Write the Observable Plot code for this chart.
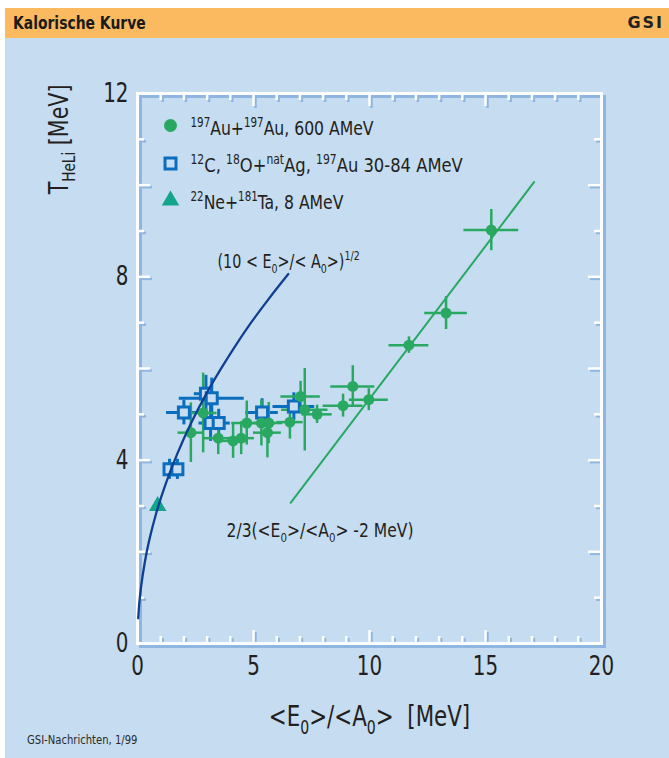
<!DOCTYPE html>
<html><head><meta charset="utf-8">
<script src="https://cdn.jsdelivr.net/npm/d3@7"></script>
<script src="https://cdn.jsdelivr.net/npm/@observablehq/plot@0.6"></script>
<style>
html,body{margin:0;padding:0;background:#fff;}
body{width:669px;height:758px;overflow:hidden;font-family:"DejaVu Sans Condensed","DejaVu Sans",sans-serif;}
#wrap{position:relative;width:669px;height:758px;}
#header{position:absolute;left:5px;top:8px;width:664px;height:30px;background:#FBBA60;}
#title{position:absolute;left:8px;top:5px;font-weight:bold;font-size:17px;color:#1a1a1a;transform:scaleX(0.91);transform-origin:left center;white-space:nowrap;}
#logo{position:absolute;right:5px;top:5px;font-family:"DejaVu Sans",sans-serif;font-weight:900;font-size:16px;letter-spacing:2px;color:#222;}
#chart{position:absolute;left:5px;top:38px;width:664px;height:720px;background:#C6DCF0;}
#footer{position:absolute;left:27px;top:733px;font-size:12px;color:#2a2a2a;transform:scaleX(0.93);transform-origin:left center;white-space:nowrap;}
</style></head>
<body>
<div id="wrap">
  <div id="header"><div id="title">Kalorische Kurve</div><div id="logo">GSI</div></div>
  <div id="chart"></div>
  <div id="footer">GSI-Nachrichten, 1/99</div>
</div>
<script>
// ---- data: 197Au+197Au, 600 AMeV (green circles)
const auX    = [2.30, 2.83, 3.48, 4.12, 4.47, 4.71, 5.34, 5.66, 5.60, 6.57, 7.03, 7.21, 7.74, 8.86, 9.28, 9.97, 11.70, 13.30, 15.25];
const auY    = [4.60, 5.03, 4.48, 4.42, 4.48, 4.81, 4.81, 4.81, 4.60, 4.83, 5.39, 5.10, 5.00, 5.19, 5.61, 5.32, 6.51, 7.21, 9.02];
const auXerr = [0.55, 0.60, 0.65, 0.65, 0.57, 0.65, 0.60, 0.60, 0.60, 0.57, 0.85, 1.00, 0.65, 0.86, 0.95, 0.84, 0.86, 0.92, 1.18];
const auYerr = [0.65, 0.87, 0.36, 0.38, 0.36, 0.48, 0.50, 0.45, 0.55, 0.37, 0.33, 0.90, 0.20, 0.25, 0.45, 0.24, 0.18, 0.36, 0.45];
// ---- 12C, 18O+natAg, 197Au 30-84 AMeV (blue open squares)
const agX    = [1.38, 1.72, 2.00, 2.95, 3.20, 3.15, 3.50, 5.37, 6.74];
const agY    = [3.80, 3.80, 5.04, 5.45, 5.35, 4.81, 4.81, 5.04, 5.17];
const agXerr = [0.20, 0.20, 0.75, 0.50, 1.40, 0.50, 0.50, 0.70, 0.90];
const agYerr = [0.22, 0.22, 0.27, 0.40, 0.44, 0.40, 0.30, 0.30, 0.30];
// ---- 22Ne+181Ta, 8 AMeV (teal triangle)
const neX = [0.87];
const neY = [3.00];
// ---- curves
const fermiX = [0.03, 0.08, 0.15, 0.30, 0.50, 0.80, 1.20, 1.70, 2.30, 3.00, 3.80, 4.70, 5.60, 6.50];
const fermiT = [0.55, 0.89, 1.22, 1.73, 2.24, 2.83, 3.46, 4.12, 4.80, 5.48, 6.16, 6.86, 7.48, 8.06];
const lineX = [6.6, 17.1];
const lineT = [3.07, 10.07];
// ---- ticks
const xLabelTicks = [0, 5, 10, 15, 20];
const yLabelTicks = [0, 4, 8, 12];
const xMinor = [1,2,3,4,6,7,8,9,11,12,13,14,16,17,18,19];
const xMajor = [5,10,15];
const yMinor = [1,3,5,7,9,11];
const yMajor = [2,4,6,8,10];
// ---- texts
const legendLabels = ["^{197}Au+^{197}Au, 600 AMeV", "^{12}C, ^{18}O+^{nat}Ag, ^{197}Au 30-84 AMeV", "^{22}Ne+^{181}Ta, 8 AMeV"];
const fermiLabel = "(10 < E_{0}>/< A_{0}>)^{1/2}";
const lineLabel = "2/3(<E_{0}>/<A_{0}> -2 MeV)";
const xTitle = "<E_{0}>/<A_{0}>  [MeV]";
const yTitle = "T_{HeLi} [MeV]";
const yTitleAt = [-3.39, 11.0];

const GREEN = "#29A862", BLUE = "#0B6DBE", NAVY = "#0E3F92", TEAL = "#13A48C", INK = "#231F20";
const BG = "#C6DCF0", SHADOW = "#8FB6E0";
const W = 664, H = 720, ML = 132, MR = 68, MT = 55, MB = 115;
const IW = W - ML - MR, IH = H - MT - MB;

const au = auX.map((x, i) => ({x, y: auY[i], xe: auXerr[i], ye: auYerr[i]}));
const ag = agX.map((x, i) => ({x, y: agY[i], xe: agXerr[i], ye: agYerr[i]}));
const ne = neX.map((x, i) => ({x, y: neY[i]}));
const fermi = fermiX.map((x, i) => ({x, y: fermiT[i]}));
const line = lineX.map((x, i) => ({x, y: lineT[i]}));

function ticks(color, off, w) {
  const o = {stroke: color, strokeWidth: w, dx: off, dy: off};
  return [
    Plot.tickX(xMinor, {...o, x: d => d, insetTop: IH - 7}),
    Plot.tickX(xMajor, {...o, x: d => d, insetTop: IH - 13}),
    Plot.tickX(xMinor, {...o, x: d => d, insetBottom: IH - 7}),
    Plot.tickX(xMajor, {...o, x: d => d, insetBottom: IH - 13}),
    Plot.tickY(yMinor, {...o, y: d => d, insetRight: IW - 7}),
    Plot.tickY(yMajor, {...o, y: d => d, insetRight: IW - 13}),
    Plot.tickY(yMinor, {...o, y: d => d, insetLeft: IW - 7}),
    Plot.tickY(yMajor, {...o, y: d => d, insetLeft: IW - 13})
  ];
}

const FONT = '"DejaVu Sans Condensed","DejaVu Sans",sans-serif';

const plot = Plot.plot({
  width: W, height: H,
  marginLeft: ML, marginRight: MR, marginTop: MT, marginBottom: MB,
  style: {background: "transparent", fontFamily: FONT, color: INK, overflow: "visible"},
  x: {domain: [0, 20]},
  y: {domain: [0, 12]},
  marks: [
    Plot.frame({stroke: SHADOW, strokeWidth: 3, dx: 3, dy: 3}),
    ...ticks(SHADOW, 2, 2.5),
    Plot.frame({stroke: "white", strokeWidth: 3}),
    ...ticks("white", 0, 2.5),
    Plot.axisX(xLabelTicks, {tickSize: 0, tickPadding: 12, fontSize: 27, fill: INK, label: null}),
    Plot.axisY(yLabelTicks, {tickSize: 0, tickPadding: 9, fontSize: 27, fill: INK, label: null}),
    // error bars
    Plot.ruleY(ag, {y: "y", x1: d => d.x - d.xe, x2: d => d.x + d.xe, stroke: BLUE, strokeWidth: 3}),
    Plot.ruleX(ag, {x: "x", y1: d => d.y - d.ye, y2: d => d.y + d.ye, stroke: BLUE, strokeWidth: 3}),
    Plot.ruleY(au, {y: "y", x1: d => d.x - d.xe, x2: d => d.x + d.xe, stroke: GREEN, strokeWidth: 2.5}),
    Plot.ruleX(au, {x: "x", y1: d => d.y - d.ye, y2: d => d.y + d.ye, stroke: GREEN, strokeWidth: 2.5}),
    Plot.dot(ag, {x: "x", y: "y", symbol: "square", r: 6.2, stroke: BLUE, strokeWidth: 3, fill: BG}),
    Plot.dot(au, {x: "x", y: "y", r: 5.5, fill: GREEN}),
    Plot.dot(ne, {x: "x", y: "y", symbol: "triangle", r: 6.5, fill: TEAL}),
    Plot.line(fermi, {x: "x", y: "y", stroke: NAVY, strokeWidth: 2.3, curve: "catmull-rom"}),
    Plot.line(line, {x: "x", y: "y", stroke: GREEN, strokeWidth: 2}),
    // legend
    Plot.dot([0], {frameAnchor: "top-left", dx: 33, dy: 32, r: 6.5, fill: GREEN}),
    Plot.dot([0], {frameAnchor: "top-left", dx: 33, dy: 70, r: 6.2, symbol: "square", stroke: BLUE, strokeWidth: 3, fill: BG}),
    Plot.dot([0], {frameAnchor: "top-left", dx: 33, dy: 107, r: 6.5, symbol: "triangle", fill: TEAL}),
    Plot.text([legendLabels[0]], {frameAnchor: "top-left", dx: 53, dy: 27, text: d => d, textAnchor: "start", fontSize: 20, fill: INK}),
    Plot.text([legendLabels[1]], {frameAnchor: "top-left", dx: 53, dy: 64, text: d => d, textAnchor: "start", fontSize: 20, fill: INK}),
    Plot.text([legendLabels[2]], {frameAnchor: "top-left", dx: 53, dy: 101, text: d => d, textAnchor: "start", fontSize: 20, fill: INK}),
    // annotations
    Plot.text([fermiLabel], {frameAnchor: "top-left", dx: 80, dy: 161, text: d => d, textAnchor: "start", fontSize: 19, fill: INK}),
    Plot.text([lineLabel], {frameAnchor: "top-left", dx: 89, dy: 430, text: d => d, textAnchor: "start", fontSize: 19, fill: INK}),
    // axis titles
    Plot.text([xTitle], {frameAnchor: "bottom", dy: 82, text: d => d, fontSize: 29, fill: INK}),
    Plot.text([yTitle], {x: () => yTitleAt[0], y: () => yTitleAt[1], rotate: -90, text: d => d, fontSize: 27, fill: INK})
  ]
});

const condenseFor = new Map([
  [legendLabels[0], 0.87], [legendLabels[1], 0.91], [legendLabels[2], 0.87],
  [fermiLabel, 0.84], [lineLabel, 0.91], [xTitle, 0.82], [yTitle, 0.85]
]);

// rich text: ^{..} superscript, _{..} subscript
function richify(svg) {
  svg.querySelectorAll("text").forEach(t => {
    const s = t.textContent;
    t.setAttribute("data-raw", s);
    if (!/[\^_]\{/.test(s)) return;
    const fs = parseFloat(getComputedStyle(t).fontSize) || 16;
    const parts = [];
    const re = /([\^_])\{([^}]*)\}/g;
    let last = 0, m;
    while ((m = re.exec(s))) {
      if (m.index > last) parts.push({k: "n", s: s.slice(last, m.index)});
      parts.push({k: m[1] === "^" ? "sup" : "sub", s: m[2]});
      last = re.lastIndex;
    }
    if (last < s.length) parts.push({k: "n", s: s.slice(last)});
    const dyAttr = t.getAttribute("dy");
    let base = 0;
    if (dyAttr) {
      base = /em$/.test(dyAttr) ? parseFloat(dyAttr) * fs : parseFloat(dyAttr);
      t.removeAttribute("dy");
    }
    t.textContent = "";
    let shift = -base;
    const NS = "http://www.w3.org/2000/svg";
    parts.forEach(p => {
      const ts = document.createElementNS(NS, "tspan");
      let target = 0;
      if (p.k === "sup") { target = -0.40 * fs; ts.setAttribute("font-size", (0.66 * fs).toFixed(1)); }
      if (p.k === "sub") { target = 0.28 * fs; ts.setAttribute("font-size", (0.66 * fs).toFixed(1)); }
      const d = target - shift;
      if (Math.abs(d) > 1e-6) ts.setAttribute("dy", d.toFixed(2));
      shift = target;
      ts.textContent = p.s;
      t.appendChild(ts);
    });
  });
}

// narrow the glyphs horizontally to mimic the condensed typeface
function condense(svg) {
  svg.querySelectorAll("text").forEach(t => {
    const raw = t.getAttribute("data-raw") || t.textContent;
    let s = condenseFor.get(raw);
    if (s === undefined && /^[0-9.\-−]+$/.test(raw.trim())) s = 0.82;
    if (!s) return;
    const b = t.getBBox();
    const anchor = getComputedStyle(t).textAnchor;
    const x0 = anchor === "middle" ? b.x + b.width / 2 : anchor === "end" ? b.x + b.width : b.x;
    const tr = t.getAttribute("transform") || "";
    t.setAttribute("transform", `${tr} translate(${x0},0) scale(${s},1) translate(${-x0},0)`.trim());
  });
}

document.getElementById("chart").appendChild(plot);
richify(plot);
condense(plot);
</script>
</body></html>
